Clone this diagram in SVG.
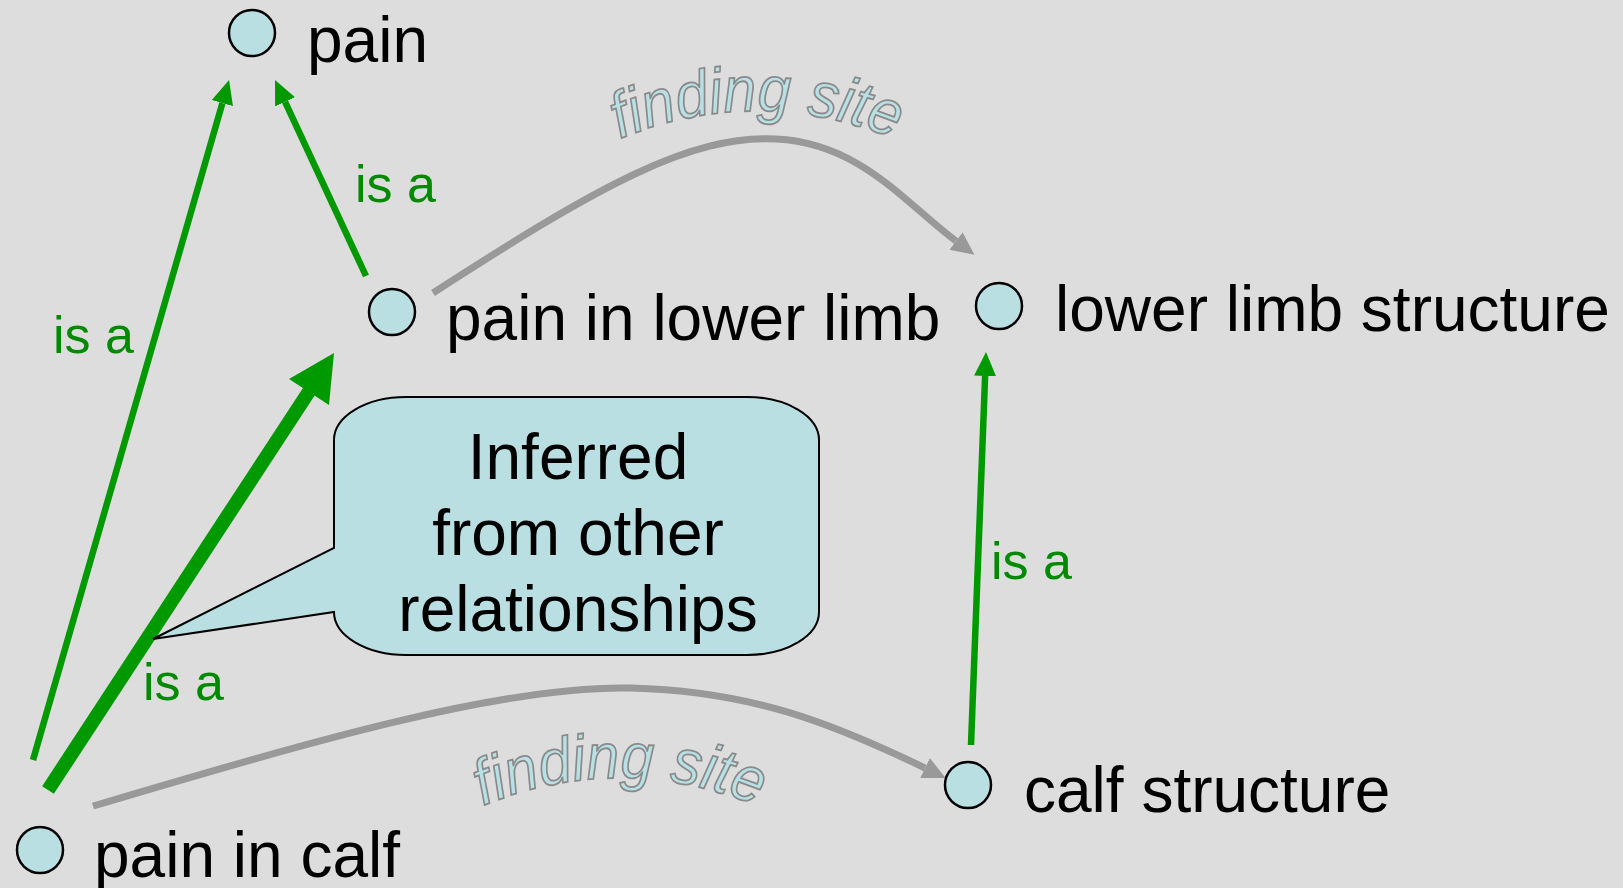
<svg xmlns="http://www.w3.org/2000/svg" width="1623" height="888" viewBox="0 0 1623 888">
  <style>
    .node { fill: #b9dfe2; stroke: #000; stroke-width: 2.5; }
    .label { font-family: "Liberation Sans", Arial, sans-serif; font-size: 64px; fill: #000; }
    .isa { font-family: "Liberation Sans", Arial, sans-serif; font-size: 52px; fill: #008a00; }
    .green { fill: none; stroke: #009900; stroke-width: 6.5; }
    .thick { fill: none; stroke: #009900; stroke-width: 14; }
    .gray { fill: none; stroke: #999999; stroke-width: 7; }
    .fs { font-family: "Liberation Sans", Arial, sans-serif; font-style: italic; font-size: 64px; fill: #b8e1e5; stroke: #8a8a8a; stroke-width: 1.8; }
    .callout { fill: #b9dfe2; stroke: #000; stroke-width: 2; }
  </style>
  <defs>
    <marker id="ahGreen" markerUnits="userSpaceOnUse" markerWidth="26" markerHeight="24" refX="0" refY="12" orient="auto">
      <polygon points="0,1 24,12 0,23" fill="#009900"/>
    </marker>
    <marker id="ahGray" markerUnits="userSpaceOnUse" markerWidth="26" markerHeight="24" refX="0" refY="12" orient="auto">
      <polygon points="0,1 23,12 0,23" fill="#999999"/>
    </marker>
    <path id="fsTop" d="M612,142 Q757,80 902,142"/>
    <path id="fsBot" d="M475,809 Q620,747 765,809"/>
  </defs>
  <rect width="1623" height="888" fill="#dddddd"/>

  <g id="connectors">
    <path class="green" d="M33,760 L222.4,103.1" marker-end="url(#ahGreen)"/>
    <path class="green" d="M366,276 L285.1,101.8" marker-end="url(#ahGreen)"/>
    <path class="green" d="M971,745 L985.1,376" marker-end="url(#ahGreen)"/>
    <path class="thick" d="M48,790 L309,391.5"/>
    <polygon points="334,353 289,379 329,405" fill="#009900"/>
    <path class="gray" d="M433,293 C600,185 690,135 776,139 C860,143 905,203 956,241" marker-end="url(#ahGray)"/>
    <path class="gray" d="M93,806 C300,745 500,685 631,688 C750,691 830,722 925,768" marker-end="url(#ahGray)"/>
    <text class="isa" x="53" y="353">is a</text>
    <text class="isa" x="355" y="202">is a</text>
    <text class="isa" x="143" y="700">is a</text>
    <text class="isa" x="991" y="579">is a</text>
    <text class="fs" text-anchor="middle"><textPath href="#fsTop" startOffset="50%" textLength="282" lengthAdjust="spacingAndGlyphs">finding site</textPath></text>
    <text class="fs" text-anchor="middle"><textPath href="#fsBot" startOffset="50%" textLength="282" lengthAdjust="spacingAndGlyphs">finding site</textPath></text>
  </g>

  <g id="callout">
    <path class="callout" d="M406,397 H747 A72 43 0 0 1 819,440 V612 A72 43 0 0 1 747,655 H406 A72 43 0 0 1 334,612 L153,639 L334,548 V440 A72 43 0 0 1 406,397 Z"/>
    <text class="label" text-anchor="middle" x="578" y="479">Inferred</text>
    <text class="label" text-anchor="middle" x="578" y="555">from other</text>
    <text class="label" text-anchor="middle" x="578" y="631">relationships</text>
  </g>

  <g id="node-pain">
    <circle class="node" cx="252" cy="33" r="23"/>
    <text class="label" x="307" y="62">pain</text>
  </g>
  <g id="node-pain-in-lower-limb">
    <circle class="node" cx="392" cy="312" r="23"/>
    <text class="label" x="446" y="340">pain in lower limb</text>
  </g>
  <g id="node-lower-limb-structure">
    <circle class="node" cx="999" cy="306" r="23"/>
    <text class="label" x="1055" y="331">lower limb structure</text>
  </g>
  <g id="node-calf-structure">
    <circle class="node" cx="968" cy="785" r="23"/>
    <text class="label" x="1024" y="812">calf structure</text>
  </g>
  <g id="node-pain-in-calf">
    <circle class="node" cx="40" cy="850" r="23"/>
    <text class="label" x="94" y="877">pain in calf</text>
  </g>
</svg>
